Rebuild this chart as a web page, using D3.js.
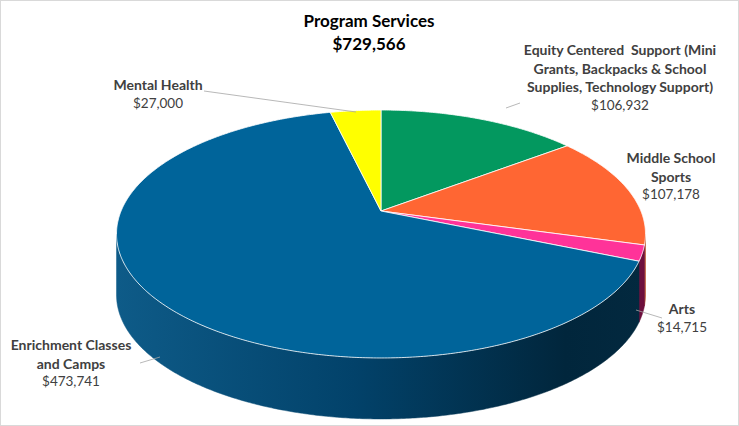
<!DOCTYPE html>
<html>
<head>
<meta charset="utf-8">
<script src="https://cdn.jsdelivr.net/npm/d3@7"></script>
<style>
  body { margin: 0; background: #fff; }
  svg { display: block; font-family: Lato, "Noto Sans", sans-serif; }
</style>
</head>
<body>
<svg id="chart" width="739" height="426"></svg>
<script>
// chart data, clockwise from 12 o'clock
const categories = [
  "Equity Centered Support (Mini Grants, Backpacks & School Supplies, Technology Support)",
  "Middle School Sports",
  "Arts",
  "Enrichment Classes and Camps",
  "Mental Health"
];
const values = [106932, 107178, 14715, 473741, 27000];
const labelLines = [
  ["Equity Centered\u00a0 Support (Mini", "Grants, Backpacks & School", "Supplies, Technology Support)"],
  ["Middle School", "Sports"],
  ["Arts"],
  ["Enrichment Classes", "and Camps"],
  ["Mental Health"]
];
const title = "Program Services";
const total = d3.sum(values);

const topColors = ["#03985f", "#ff6633", "#ff3399", "#00649a", "#ffff00"];
const sideColors = ["#026640", "#b1421c", "#6d0f3d", "url(#blueSide)", "#a8a800"];

const svg = d3.select("#chart");
const W = 739, H = 426;

svg.append("rect")
  .attr("x", 0.5).attr("y", 0.5)
  .attr("width", W - 1).attr("height", H - 1)
  .attr("fill", "#fff").attr("stroke", "#d9d9d9");

// perspective projection of the pie disc
const cx = 381, cy = 211;
const k = 259.9, q = 119.7, p = 0.1855;
const depth = 61;
const proj = (a, dz = 0) => {
  const d = 1 + p * Math.cos(a);
  return [cx + k * Math.sin(a) / d, cy - q * Math.cos(a) / d + dz];
};

const defs = svg.append("defs");
const grad = defs.append("linearGradient")
  .attr("id", "blueSide")
  .attr("gradientUnits", "userSpaceOnUse")
  .attr("x1", 116).attr("x2", 645).attr("y1", 0).attr("y2", 0);
[[0, "#0e5b88"], [0.45, "#02426a"], [0.85, "#01263c"], [1, "#03293f"]].forEach(([o, c]) =>
  grad.append("stop").attr("offset", o).attr("stop-color", c));

const pie = d3.pie().sort(null).value(d => d);
const arcs = pie(values);

const step = Math.PI / 360;
const sample = (a0, a1) => {
  const pts = [];
  const n = Math.max(2, Math.ceil((a1 - a0) / step));
  for (let i = 0; i <= n; i++) pts.push(a0 + (a1 - a0) * i / n);
  return pts;
};

// visible side wall lies between the two silhouette angles
const sil0 = Math.acos(-p);               // right
const sil1 = 2 * Math.PI - Math.acos(-p); // left

const sides = svg.append("g");
arcs.forEach((d, i) => {
  const a0 = Math.max(d.startAngle, sil0);
  const a1 = Math.min(d.endAngle, sil1);
  if (a1 <= a0) return;
  const angs = sample(a0, a1);
  const pts = angs.map(a => proj(a)).concat(angs.slice().reverse().map(a => proj(a, depth)));
  sides.append("path")
    .attr("d", d3.line()(pts) + "Z")
    .attr("fill", sideColors[i])
    .attr("stroke", sideColors[i])
    .attr("stroke-width", 0.5);
});

const tops = svg.append("g");
arcs.forEach((d, i) => {
  const pts = [[cx, cy]].concat(sample(d.startAngle, d.endAngle).map(a => proj(a)));
  tops.append("path")
    .attr("d", d3.line()(pts) + "Z")
    .attr("fill", topColors[i])
    .attr("stroke", "#fff")
    .attr("stroke-width", 0.8)
    .attr("stroke-linejoin", "round");
});

// title
svg.append("text")
  .attr("x", 369).attr("y", 27)
  .attr("text-anchor", "middle")
  .attr("font-size", 17).attr("font-weight", "bold").attr("fill", "#000")
  .text(title);
svg.append("text")
  .attr("x", 369).attr("y", 50)
  .attr("text-anchor", "middle")
  .attr("font-size", 17).attr("font-weight", "bold").attr("fill", "#000")
  .text(d3.format("$,")(total));

// data labels: [centre x, first line baseline, leader points]
const labelPos = [
  [620, 55, [[520, 103], [506, 108]]],
  [671, 163, null],
  [682, 314, [[662, 318], [636, 310]]],
  [71, 350, [[140, 363], [160, 357]]],
  [158, 90, [[204, 91], [356, 112]]]
];
const fmt = d3.format("$,");
const labels = svg.append("g").attr("fill", "#404040");
arcs.forEach((d, i) => {
  const [x, y, leader] = labelPos[i];
  const lines = labelLines[i];
  const t = labels.append("text").attr("text-anchor", "middle");
  lines.forEach((l, j) => {
    t.append("tspan").attr("x", x).attr("y", y + j * 18.5)
      .attr("font-size", 14).attr("font-weight", "bold").text(l);
  });
  t.append("tspan").attr("x", x).attr("y", y + lines.length * 18.5 - 1)
    .attr("font-size", 13.5).text(fmt(values[i]));
  if (leader) {
    svg.append("path")
      .attr("d", d3.line()(leader))
      .attr("fill", "none")
      .attr("stroke", "#a6a6a6")
      .attr("stroke-width", 0.8);
  }
});
</script>
</body>
</html>
